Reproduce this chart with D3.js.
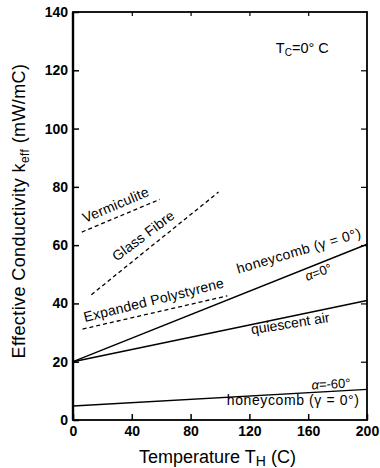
<!DOCTYPE html>
<html>
<head>
<meta charset="utf-8">
<script src="https://cdn.jsdelivr.net/npm/d3@7"></script>
<style>
  html, body { margin: 0; padding: 0; background: #fff; }
  svg { display: block; font-family: "Liberation Sans", Arial, Helvetica, sans-serif; }
</style>
</head>
<body>
<svg id="chart" width="380" height="468"></svg>
<script>
// Effective conductivity vs hot-side temperature (T_C = 0 °C)
const xTicks = [0, 40, 80, 120, 160, 200];
const yTicks = [0, 20, 40, 60, 80, 100, 120, 140];

// solid curves: [T_H, k_eff]
const honeycombAlpha0 = [[0, 20], [200, 60.3]];
const quiescentAir = [[0, 20], [200, 41]];
const honeycombAlphaM60 = [[0, 4.8], [200, 10.5]];

// dashed reference materials
const vermiculite = [[6, 64.5], [59, 75.7]];
const glassFibre = [[12.5, 43], [99, 78.2]];
const expandedPolystyrene = [[6.5, 31.2], [105, 42.6]];

const W = 380, H = 468;
const margin = { left: 73, top: 12, right: 13, bottom: 48 };
const iw = W - margin.left - margin.right;   // 294
const ih = H - margin.top - margin.bottom;   // 408

const x = d3.scaleLinear().domain([0, 200]).range([0, iw]);
const y = d3.scaleLinear().domain([0, 140]).range([ih, 0]);

const svg = d3.select("#chart");
const g = svg.append("g").attr("transform", `translate(${margin.left},${margin.top})`);

const line = d3.line().x(d => x(d[0])).y(d => y(d[1]));

// frame
g.append("rect")
  .attr("x", 0).attr("y", 0).attr("width", iw).attr("height", ih)
  .attr("fill", "none").attr("stroke", "#000").attr("stroke-width", 1.8);
g.append("line").attr("x1", 0).attr("x2", 0).attr("y1", 0).attr("y2", ih)
  .attr("stroke", "#000").attr("stroke-width", 2.4);

const tickFont = g => g.selectAll("text")
  .attr("font-size", 14).attr("font-weight", "bold").attr("fill", "#000")
  .attr("font-family", "'Liberation Sans', Arial, sans-serif");

// bottom axis (inward ticks)
g.append("g").attr("transform", `translate(0,${ih})`)
  .call(d3.axisBottom(x).tickValues(xTicks).tickSizeInner(-6).tickSizeOuter(0).tickPadding(6).tickFormat(d3.format("d")))
  .call(a => a.select(".domain").remove())
  .call(a => a.selectAll("line").attr("stroke", "#000").attr("stroke-width", 1.5))
  .call(tickFont);

// left axis
g.append("g")
  .call(d3.axisLeft(y).tickValues(yTicks).tickSizeInner(-6).tickSizeOuter(0).tickPadding(5).tickFormat(d3.format("d")))
  .call(a => a.select(".domain").remove())
  .call(a => a.selectAll("line").attr("stroke", "#000").attr("stroke-width", 1.5))
  .call(tickFont);

// top and right axes: ticks only
g.append("g")
  .call(d3.axisTop(x).tickValues(xTicks.slice(1, -1)).tickSizeInner(-4).tickSizeOuter(0).tickFormat(""))
  .call(a => a.select(".domain").remove())
  .call(a => a.selectAll("line").attr("stroke", "#000").attr("stroke-width", 1.2));
g.append("g").attr("transform", `translate(${iw},0)`)
  .call(d3.axisRight(y).tickValues(yTicks.slice(1, -1)).tickSizeInner(-6).tickSizeOuter(0).tickFormat(""))
  .call(a => a.select(".domain").remove())
  .call(a => a.selectAll("line").attr("stroke", "#000").attr("stroke-width", 1.2));

// solid curves
[honeycombAlpha0, quiescentAir, honeycombAlphaM60].forEach(d => {
  g.append("path").datum(d).attr("d", line)
    .attr("fill", "none").attr("stroke", "#000").attr("stroke-width", 1.4);
});

// dashed materials
[vermiculite, glassFibre, expandedPolystyrene].forEach(d => {
  g.append("path").datum(d).attr("d", line)
    .attr("fill", "none").attr("stroke", "#000").attr("stroke-width", 1.3)
    .attr("stroke-dasharray", "4,3");
});

// curve labels placed at [T_H, k_eff] with a rotation
function label(t, k, rot, size, spacing) {
  return g.append("text")
    .attr("transform", `translate(${x(t)},${y(k)}) rotate(${rot})`)
    .attr("font-size", size || 14).attr("fill", "#000")
    .attr("letter-spacing", spacing == null ? 0.2 : spacing);
}
label(8.2, 67.6, -23).text("Vermiculite");
label(29.7, 54.3, -37).text("Glass Fibre");
label(8.2, 33.6, -14).text("Expanded Polystyrene");
label(112.4, 50.2, -16.5, 14, 0.4).text("honeycomb (\u03b3 = 0\u00b0)");
{
  const t = label(159.2, 47.7, -20, 13, 0);
  t.append("tspan").attr("font-style", "italic").text("\u03b1");
  t.append("tspan").text("=0\u00b0");
}
label(121.6, 29.4, -9, 14, 0).text("quiescent air");
{
  const t = label(162.4, 10.5, -3, 13, 0);
  t.append("tspan").attr("font-style", "italic").text("\u03b1");
  t.append("tspan").text("=-60\u00b0");
}
label(104.6, 5.1, 0, 14, 0.6).text("honeycomb (\u03b3 = 0\u00b0)");

// condition note
{
  const t = label(138, 125.8, 0, 14.5, 0);
  t.append("tspan").text("T");
  t.append("tspan").attr("font-size", 10).attr("dy", 3).text("C");
  t.append("tspan").attr("dy", -3).text("=0\u00b0 C");
}

// axis titles
{
  const t = svg.append("text")
    .attr("transform", `translate(24.5,${margin.top + 199}) rotate(-90)`)
    .attr("text-anchor", "middle").attr("font-size", 18).attr("fill", "#000")
    .attr("letter-spacing", 0.4);
  t.append("tspan").text("Effective Conductivity k");
  t.append("tspan").attr("font-size", 12).attr("dy", 4).text("eff");
  t.append("tspan").attr("dy", -4).text(" (mW/mC)");
}
{
  const t = svg.append("text")
    .attr("transform", `translate(217.5,463)`)
    .attr("text-anchor", "middle").attr("font-size", 18).attr("fill", "#000");
  t.append("tspan").text("Temperature T");
  t.append("tspan").attr("font-size", 14).attr("dy", 3).text("H");
  t.append("tspan").attr("dy", -3).text(" (C)");
}
</script>
</body>
</html>
